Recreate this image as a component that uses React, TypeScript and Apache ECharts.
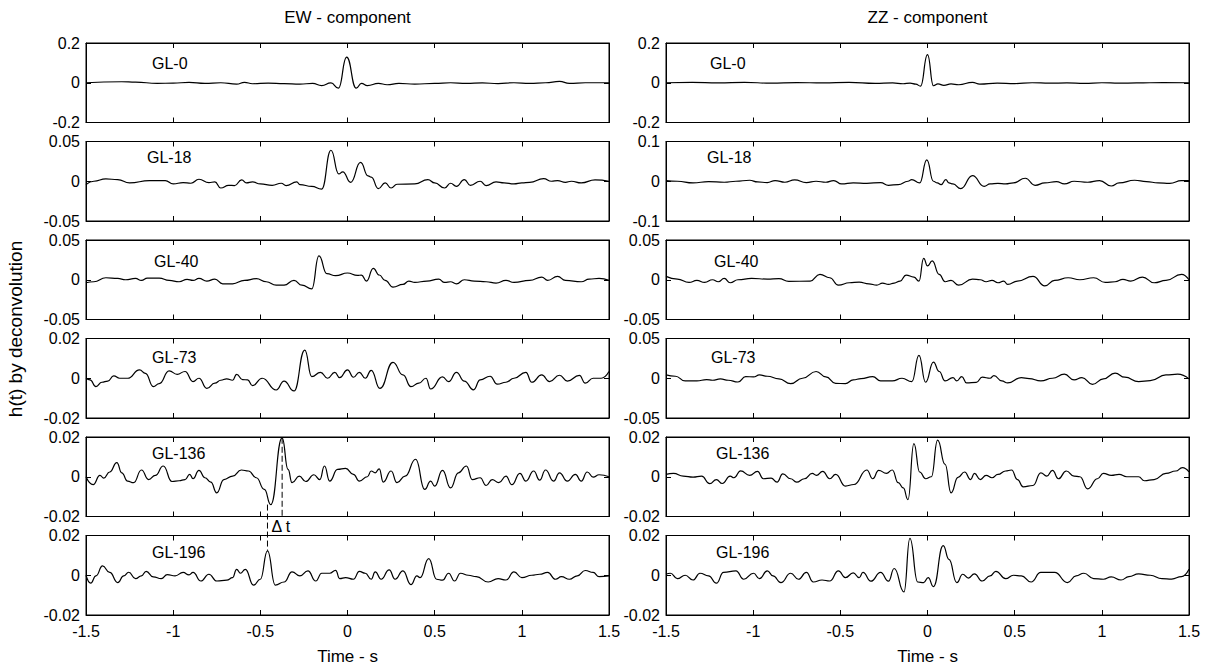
import React, { useEffect, useRef } from "react";
import * as echarts from "echarts";

// ---- axis setup -------------------------------------------------------
const componentTitles = ["EW - component", "ZZ - component"];
const stationNames = ["GL-0", "GL-18", "GL-40", "GL-73", "GL-136", "GL-196"];
const ewLimits = [0.2, 0.05, 0.05, 0.02, 0.02, 0.02];
const zzLimits = [0.2, 0.1, 0.05, 0.05, 0.02, 0.02];
const timeRange = [-1.5, 1.5];
const timeStep = 0.5;
const timeLabel = "Time - s";
const amplitudeLabel = "h(t) by deconvolution";

// ---- EW component, h(t) [time s, amplitude] -------------------------
const ewGL0: [number, number][] = [
  [-1.5, 0], [-1.295, 0.005], [-1.216, 0.003], [-1.091, -0.003], [-1.0, -0.002], [-0.909, 0.002],
  [-0.818, -0.003], [-0.727, 0], [-0.636, -0.007], [-0.591, 0.002], [-0.545, -0.005], [-0.455, -0.002],
  [-0.364, -0.004], [-0.273, -0.007], [-0.2, -0.003], [-0.148, -0.014], [-0.095, -0.001], [-0.052, -0.027],
  [-0.005, 0.129], [0.05, -0.027], [0.08, -0.003], [0.114, -0.014], [0.177, -0.003], [0.227, -0.01],
  [0.295, -0.003], [0.386, -0.007], [0.5, -0.003], [0.591, 0], [0.682, -0.003], [0.773, -0.001],
  [0.864, -0.004], [0.955, 0], [1.045, -0.003], [1.136, 0], [1.216, 0.007], [1.273, -0.003],
  [1.364, 0], [1.5, 0],
];

const ewGL18: [number, number][] = [
  [-1.5, -0.0042], [-1.455, 0], [-1.386, 0.003], [-1.318, 0.0021], [-1.25, -0.0021], [-1.136, 0.0008],
  [-1.045, 0.0008], [-1.0, -0.0034], [-0.943, -0.0017], [-0.898, -0.0025], [-0.852, 0.0025],
  [-0.795, -0.0017], [-0.761, -0.0008], [-0.727, -0.0085], [-0.682, -0.0051], [-0.648, -0.0055],
  [-0.607, 0.0017], [-0.58, -0.0021], [-0.545, -0.0008], [-0.5, -0.0034], [-0.432, -0.0051],
  [-0.38, -0.0025], [-0.352, -0.0055], [-0.291, -0.0008], [-0.273, -0.0042], [-0.205, -0.0064],
  [-0.148, -0.0098], [-0.095, 0.039], [-0.05, 0.0093], [-0.027, 0.0119], [0.018, -0.0013],
  [0.075, 0.0237], [0.118, 0.0068], [0.136, 0.0051], [0.177, -0.0093], [0.216, -0.0021],
  [0.25, -0.0085], [0.284, -0.0038], [0.386, -0.0034], [0.461, 0.0021], [0.5, -0.0021],
  [0.557, -0.0085], [0.591, -0.0025], [0.625, -0.0064], [0.67, 0.0021], [0.705, -0.0051],
  [0.761, 0], [0.795, -0.0055], [0.852, -0.0008], [0.898, -0.0021], [0.955, -0.0034], [1.0, -0.0021],
  [1.045, -0.0013], [1.125, 0.0034], [1.17, 0], [1.205, 0.0008], [1.25, -0.0013], [1.284, 0],
  [1.341, -0.0021], [1.42, 0.0017], [1.5, 0],
];

const ewGL40: [number, number][] = [
  [-1.5, -0.0038], [-1.455, -0.0025], [-1.386, 0.0025], [-1.318, 0.0017], [-1.273, 0], [-1.216, 0.0017],
  [-1.182, -0.0008], [-1.148, 0.0021], [-1.08, 0.0021], [-1.023, -0.0008], [-0.966, -0.0025],
  [-0.92, 0.0004], [-0.886, -0.0008], [-0.852, 0.0017], [-0.807, -0.0017], [-0.761, 0.0008],
  [-0.716, -0.0051], [-0.659, -0.0051], [-0.591, -0.0008], [-0.523, 0.0013], [-0.466, -0.0025],
  [-0.409, -0.0068], [-0.364, -0.0068], [-0.307, -0.0008], [-0.261, -0.0068], [-0.205, -0.0114],
  [-0.164, 0.03], [-0.118, 0.0076], [-0.068, 0.0051], [0, 0.0085], [0.057, 0.0055], [0.08, 0.0059],
  [0.109, -0.0017], [0.148, 0.0144], [0.182, 0.006], [0.216, -0.0008], [0.261, -0.0093],
  [0.318, -0.0059], [0.352, -0.0017], [0.386, -0.0034], [0.455, -0.0017], [0.523, 0.0008],
  [0.557, -0.0034], [0.591, -0.0025], [0.625, -0.0051], [0.67, 0], [0.727, -0.0017], [0.795, -0.0025],
  [0.852, -0.0042], [0.909, -0.0008], [0.955, -0.0034], [1.045, -0.0008], [1.114, 0.0034],
  [1.148, -0.0008], [1.205, 0.0042], [1.25, -0.0008], [1.341, -0.0025], [1.386, 0.0008],
  [1.443, 0.0017], [1.5, -0.0008],
];

const ewGL73: [number, number][] = [
  [-1.5, 0], [-1.477, -0.0008], [-1.443, -0.0042], [-1.409, -0.002], [-1.375, -0.0014], [-1.341, 0.0012],
  [-1.307, 0], [-1.261, 0], [-1.193, 0.0042], [-1.159, 0.0025], [-1.114, -0.0042], [-1.08, -0.0027],
  [-1.023, 0.0037], [-0.977, 0.002], [-0.932, 0.0034], [-0.886, -0.0017], [-0.852, 0], [-0.807, -0.0051],
  [-0.761, -0.0025], [-0.727, -0.001], [-0.693, -0.0003], [-0.659, -0.001], [-0.636, 0.002],
  [-0.602, -0.0007], [-0.573, -0.0008], [-0.545, -0.0037], [-0.489, 0], [-0.409, -0.0059],
  [-0.364, -0.0014], [-0.307, -0.0064], [-0.245, 0.0142], [-0.205, 0.0008], [-0.155, 0.003],
  [-0.114, 0], [-0.073, 0.003], [-0.045, 0.0003], [0, 0.0042], [0.034, 0.0005], [0.068, 0.003],
  [0.102, 0], [0.136, 0.004], [0.186, -0.0051], [0.261, 0.008], [0.318, 0.0017], [0.364, -0.0042],
  [0.409, -0.0025], [0.45, 0], [0.477, -0.0054], [0.545, 0.0007], [0.58, -0.0017], [0.625, 0.003],
  [0.67, -0.0014], [0.723, -0.0058], [0.761, -0.0008], [0.818, 0.001], [0.859, -0.003], [0.909, -0.002],
  [0.955, 0], [1.023, 0.003], [1.057, -0.002], [1.114, 0.0017], [1.159, -0.0017], [1.216, 0.0015],
  [1.261, -0.0014], [1.33, 0.0014], [1.364, -0.0025], [1.409, 0], [1.455, 0], [1.5, 0.0034],
];

const ewGL136: [number, number][] = [
  [-1.5, 0], [-1.459, -0.004], [-1.42, 0.0007], [-1.398, -0.0007], [-1.364, 0.0024], [-1.323, 0.0071],
  [-1.295, 0.002], [-1.261, -0.0022], [-1.227, -0.003], [-1.182, 0.0034], [-1.141, -0.0014],
  [-1.102, 0.0007], [-1.057, 0.0054], [-1.007, -0.0024], [-0.966, -0.002], [-0.932, -0.0014],
  [-0.905, 0.0012], [-0.886, -0.001], [-0.852, 0.0032], [-0.818, -0.0005], [-0.784, -0.0027],
  [-0.75, -0.0081], [-0.709, -0.0014], [-0.659, 0.0003], [-0.609, 0.0034], [-0.568, 0.0029],
  [-0.523, -0.0005], [-0.477, -0.0064], [-0.44, -0.014], [-0.375, 0.0196], [-0.341, 0.0037],
  [-0.318, -0.003], [-0.277, 0.0003], [-0.239, -0.0024], [-0.193, 0.001], [-0.159, -0.0014],
  [-0.132, 0.0054], [-0.102, -0.0022], [-0.057, 0.0037], [-0.011, 0.0042], [0.034, 0.0012],
  [0.068, -0.0022], [0.114, 0], [0.136, 0.0029], [0.159, 0.002], [0.182, 0.004], [0.205, -0.0027],
  [0.25, 0.0029], [0.284, -0.003], [0.33, 0.0003], [0.391, 0.0088], [0.443, -0.0064], [0.477, -0.0022],
  [0.5, -0.0047], [0.545, 0.0032], [0.591, -0.0056], [0.636, 0.002], [0.682, 0.0054], [0.716, -0.0014],
  [0.761, -0.0005], [0.795, -0.0044], [0.83, -0.0014], [0.868, -0.003], [0.909, 0.0003], [0.943, -0.004],
  [0.989, 0.0017], [1.023, -0.0022], [1.068, 0.0029], [1.102, -0.0017], [1.136, 0.0034], [1.182, -0.0022],
  [1.216, 0.002], [1.261, -0.0022], [1.307, 0.0012], [1.341, -0.0022], [1.375, 0.0024], [1.409, -0.0002],
  [1.443, 0.001], [1.5, 0],
];

const ewGL196: [number, number][] = [
  [-1.5, 0], [-1.473, -0.004], [-1.443, -0.0003], [-1.405, 0.0047], [-1.364, 0.0014], [-1.318, -0.0037],
  [-1.284, -0.0003], [-1.255, 0.0015], [-1.216, -0.0017], [-1.182, -0.0003], [-1.155, 0.002],
  [-1.114, -0.0008], [-1.068, -0.0017], [-1.034, 0.0003], [-0.989, -0.0003], [-0.943, 0.0014],
  [-0.909, 0.0002], [-0.886, 0.0014], [-0.841, -0.0029], [-0.795, 0.0005], [-0.75, -0.0029],
  [-0.693, -0.0025], [-0.659, -0.0012], [-0.636, 0.003], [-0.614, 0.001], [-0.586, 0.003],
  [-0.539, -0.005], [-0.5, -0.002], [-0.459, 0.0123], [-0.414, -0.005], [-0.364, -0.0034],
  [-0.318, 0.0017], [-0.273, -0.0003], [-0.227, 0.0022], [-0.182, -0.0029], [-0.148, 0.001],
  [-0.102, 0.001], [-0.068, 0.0025], [-0.045, -0.0017], [-0.011, -0.0012], [0.034, -0.002],
  [0.068, 0.0019], [0.102, 0.001], [0.136, -0.002], [0.159, 0.0017], [0.193, -0.002], [0.239, 0.0027],
  [0.273, -0.002], [0.318, 0.0022], [0.364, -0.0047], [0.398, -0.0003], [0.416, -0.0012], [0.466, 0.0084],
  [0.511, -0.002], [0.545, -0.0025], [0.58, 0.001], [0.614, -0.0029], [0.648, 0.001], [0.693, 0],
  [0.739, -0.0007], [0.807, -0.0034], [0.864, -0.0017], [0.909, -0.0024], [0.955, 0.0017], [1.0, -0.0012],
  [1.057, 0], [1.102, 0.0005], [1.148, 0.0014], [1.193, -0.002], [1.227, -0.0007], [1.273, -0.002],
  [1.318, -0.0003], [1.364, 0.0024], [1.409, 0.0014], [1.443, -0.0007], [1.5, -0.0003],
];

// ---- ZZ component, h(t) [time s, amplitude] -------------------------
const zzGL0: [number, number][] = [
  [-1.5, 0], [-1.35, 0.002], [-1.2, -0.001], [-1.05, 0.002], [-0.9, -0.002], [-0.75, 0.001], [-0.6, -0.001],
  [-0.45, 0.002], [-0.3, -0.003], [-0.2, -0.001], [-0.14, -0.005], [-0.1, -0.002], [-0.067, -0.007],
  [-0.04, -0.017], [0, 0.142], [0.034, -0.015], [0.06, -0.006], [0.094, -0.013], [0.135, -0.006],
  [0.179, -0.01], [0.258, 0.002], [0.3, -0.007], [0.4, -0.002], [0.5, -0.004], [0.6, 0], [0.7, -0.002],
  [0.8, -0.001], [0.9, -0.003], [1.0, 0], [1.1, -0.002], [1.2, -0.001], [1.35, 0.001], [1.5, 0],
];

const zzGL18: [number, number][] = [
  [-1.5, 0.0017], [-1.435, 0], [-1.345, -0.0042], [-1.256, -0.0008], [-1.166, -0.0025], [-1.099, 0],
  [-1.02, 0.0025], [-0.975, -0.0017], [-0.919, -0.0034], [-0.874, 0.0017], [-0.818, -0.0025],
  [-0.762, 0.0034], [-0.695, -0.0034], [-0.639, 0], [-0.583, -0.0025], [-0.538, 0.0017], [-0.493, -0.0068],
  [-0.426, -0.0042], [-0.348, -0.0051], [-0.269, -0.0034], [-0.224, -0.0102], [-0.168, -0.0085],
  [-0.112, 0], [-0.09, 0.0042], [-0.045, -0.0042], [-0.004, 0.054], [0.034, 0], [0.056, -0.0042],
  [0.078, -0.0085], [0.105, 0.004], [0.123, -0.0042], [0.146, -0.0068], [0.191, -0.0186], [0.258, 0.0144],
  [0.325, -0.0127], [0.359, -0.0068], [0.404, -0.0051], [0.448, -0.0068], [0.493, -0.0042],
  [0.561, 0.0076], [0.617, -0.0102], [0.673, -0.0042], [0.74, -0.0008], [0.785, -0.0068], [0.841, 0],
  [0.919, -0.0025], [0.987, 0.0017], [1.054, -0.012], [1.099, -0.0042], [1.188, 0.0025], [1.256, -0.0008],
  [1.323, -0.0042], [1.39, -0.0051], [1.457, 0.0017], [1.5, 0.0017],
];

const zzGL40: [number, number][] = [
  [-1.5, 0.0042], [-1.435, 0.0008], [-1.368, -0.0034], [-1.323, -0.0008], [-1.278, -0.0034], [-1.233, 0],
  [-1.2, -0.0025], [-1.166, 0.0017], [-1.132, -0.0038], [-1.087, 0], [-1.009, 0.0017], [-0.919, 0.0008],
  [-0.852, 0.0013], [-0.796, -0.0021], [-0.673, -0.0017], [-0.617, 0.0068], [-0.561, 0.0025],
  [-0.511, -0.0068], [-0.448, -0.0038], [-0.392, -0.003], [-0.336, -0.0051], [-0.291, -0.0068],
  [-0.258, -0.0042], [-0.224, -0.0059], [-0.191, -0.0042], [-0.157, -0.0017], [-0.123, 0.0059],
  [-0.078, 0.0034], [-0.049, -0.0017], [-0.022, 0.027], [0, 0.0174], [0.027, 0.0237], [0.067, 0.0068],
  [0.101, -0.0025], [0.135, -0.0008], [0.179, -0.0068], [0.258, 0.0008], [0.303, 0], [0.336, -0.0025],
  [0.37, -0.0008], [0.404, -0.0038], [0.437, -0.0017], [0.46, -0.0059], [0.516, -0.0017], [0.605, 0.0042],
  [0.673, -0.0076], [0.729, -0.0008], [0.807, 0.0025], [0.874, 0], [0.953, 0.0025], [1.02, -0.0034],
  [1.076, -0.0025], [1.121, 0.0004], [1.166, -0.0017], [1.233, 0.0034], [1.3, -0.0038], [1.368, -0.0008],
  [1.457, 0.0068], [1.5, 0],
];

const zzGL73: [number, number][] = [
  [-1.5, 0.0042], [-1.446, 0.0025], [-1.39, -0.0034], [-1.323, -0.0034], [-1.267, -0.0017],
  [-1.233, -0.0025], [-1.188, -0.0008], [-1.143, -0.0025], [-1.087, -0.0047], [-1.043, 0.0021],
  [-0.998, 0.0017], [-0.964, 0.0042], [-0.919, 0.0025], [-0.852, -0.0008], [-0.785, -0.0068], [-0.717, 0],
  [-0.639, 0.0085], [-0.583, 0.0017], [-0.527, -0.0064], [-0.471, -0.0068], [-0.426, -0.0021],
  [-0.381, -0.0004], [-0.314, 0.0021], [-0.269, -0.0034], [-0.202, -0.0034], [-0.146, 0], [-0.09, -0.0042],
  [-0.049, 0.0288], [-0.011, -0.005], [0.034, 0.0204], [0.067, 0.0085], [0.101, -0.0034], [0.146, 0.0008],
  [0.168, -0.0034], [0.197, 0.0021], [0.224, -0.0059], [0.28, -0.0051], [0.314, 0.0013], [0.359, 0],
  [0.381, 0.0034], [0.426, -0.0034], [0.46, -0.0059], [0.538, 0.0008], [0.583, -0.0004], [0.65, -0.0034],
  [0.717, 0], [0.785, 0.0051], [0.841, -0.0021], [0.886, 0.0008], [0.946, -0.0076], [1.009, -0.0008],
  [1.076, 0.0064], [1.132, 0.0013], [1.211, -0.0042], [1.278, -0.003], [1.368, 0.0042], [1.435, 0.0051],
  [1.5, -0.0008],
];

const zzGL136: [number, number][] = [
  [-1.5, 0.0012], [-1.457, 0.0017], [-1.401, 0.0003], [-1.345, -0.0002], [-1.296, 0.0003],
  [-1.249, -0.0035], [-1.211, -0.0014], [-1.177, -0.0034], [-1.132, 0.0003], [-1.11, -0.0005],
  [-1.072, 0.003], [-1.02, 0.0007], [-0.975, 0.0027], [-0.942, -0.001], [-0.897, -0.0007],
  [-0.863, -0.0027], [-0.83, 0.0014], [-0.785, -0.001], [-0.751, -0.0027], [-0.706, -0.001],
  [-0.661, 0.0017], [-0.637, 0.0007], [-0.601, 0.0027], [-0.561, -0.001], [-0.527, 0.0012],
  [-0.471, -0.0047], [-0.422, -0.0039], [-0.348, 0.0034], [-0.314, -0.001], [-0.28, 0.0032],
  [-0.235, 0.0017], [-0.202, 0.0034], [-0.168, -0.003], [-0.139, -0.0056], [-0.112, -0.0115],
  [-0.078, 0.0167], [-0.045, 0.0024], [-0.011, -0.001], [0.022, 0], [0.058, 0.0184], [0.101, 0.0062],
  [0.135, -0.0081], [0.175, -0.0003], [0.213, 0.0024], [0.247, -0.0014], [0.269, 0.0017], [0.303, -0.0014],
  [0.336, 0.0007], [0.37, -0.0005], [0.404, 0.0012], [0.448, 0.0029], [0.482, 0.0034], [0.516, -0.0014],
  [0.549, -0.0051], [0.605, -0.0044], [0.65, 0.002], [0.684, 0.0003], [0.717, 0.0032], [0.751, -0.001],
  [0.796, 0.0029], [0.841, 0.0003], [0.874, 0], [0.919, -0.0061], [0.975, -0.001], [1.009, 0.0017],
  [1.054, 0.0007], [1.099, 0.0012], [1.143, 0], [1.211, 0], [1.244, -0.002], [1.3, -0.0014],
  [1.368, 0.0017], [1.424, 0.0029], [1.462, 0.0046], [1.5, 0.0024],
];

const zzGL196: [number, number][] = [
  [-1.5, 0.0005], [-1.475, 0.001], [-1.435, -0.0017], [-1.39, 0], [-1.345, -0.0024], [-1.305, 0.001],
  [-1.256, -0.0003], [-1.211, -0.004], [-1.17, 0.0014], [-1.099, 0.0022], [-1.054, -0.002], [-0.998, 0.001],
  [-0.964, -0.0017], [-0.919, 0.0022], [-0.886, -0.0003], [-0.841, -0.0037], [-0.785, 0.001],
  [-0.74, -0.002], [-0.695, 0.0014], [-0.655, -0.0034], [-0.605, -0.0024], [-0.561, -0.0029],
  [-0.511, 0.0022], [-0.471, -0.0012], [-0.426, 0.0012], [-0.392, -0.0012], [-0.37, 0.0014],
  [-0.325, -0.003], [-0.269, 0.0014], [-0.224, -0.003], [-0.191, 0.0034], [-0.135, -0.0084],
  [-0.101, 0.0186], [-0.056, -0.0034], [-0.022, -0.0037], [0.004, -0.0012], [0.034, -0.0057],
  [0.09, 0.0149], [0.123, 0.008], [0.168, -0.0037], [0.202, 0.0005], [0.235, -0.0014], [0.269, 0.0007],
  [0.314, -0.0029], [0.359, -0.0003], [0.392, 0.002], [0.448, -0.0017], [0.493, 0], [0.538, -0.0003],
  [0.594, -0.0034], [0.65, 0.0014], [0.729, 0.0014], [0.803, -0.0037], [0.852, -0.0003], [0.897, 0.001],
  [0.953, -0.0017], [1.009, -0.002], [1.054, -0.0008], [1.11, -0.0024], [1.155, -0.0007], [1.211, 0.0007],
  [1.278, 0], [1.345, -0.0017], [1.401, -0.0019], [1.457, -0.0007], [1.5, 0.003],
];

// Delay annotation between GL-136 and GL-196 (EW): [time, amplitude]
const gl136Peak: [number, number] = [-0.375, 0.0196];
const gl136Trough: [number, number] = [-0.459, -0.014];
const gl196Peak: [number, number] = [-0.459, 0.0123];
const deltaLabel = "\u0394 t";

const ewTraces = [ewGL0, ewGL18, ewGL40, ewGL73, ewGL136, ewGL196];
const zzTraces = [zzGL0, zzGL18, zzGL40, zzGL73, zzGL136, zzGL196];

// ---- layout ------------------------------------------------------------
const W = 1210;
const H = 669;
const COL_LEFT = [86, 666];
const PLOT_W = 523;
const TOP0 = 43;
const PANEL_H = 79.5;
const STEP = 98.5;
const FONT = '"Liberation Sans", Arial, Helvetica, sans-serif';
const LABEL_DX = [
  [66, 61, 68, 66, 66, 66],
  [44, 41, 48, 45, 50, 50],
];
const LABEL_DY = [20, 16, 21, 19, 16, 17];

const fmt = (v: number) => (Math.abs(v) < 1e-9 ? "0" : String(Number(v.toPrecision(6))));

function buildOption() {
  const grids: any[] = [];
  const xAxes: any[] = [];
  const yAxes: any[] = [];
  const series: any[] = [];
  const graphics: any[] = [];

  const axisLine = { show: true, onZero: false, lineStyle: { color: "#000", width: 1 } };
  const tick = { show: true, inside: true, length: 5, lineStyle: { color: "#000", width: 1 } };

  [ewTraces, zzTraces].forEach((traces, c) => {
    const limits = c === 0 ? ewLimits : zzLimits;
    traces.forEach((data, r) => {
      const g = c * 6 + r;
      const lim = limits[r];
      const top = TOP0 + r * STEP;
      grids.push({
        left: COL_LEFT[c],
        top,
        width: PLOT_W,
        height: PANEL_H,
        show: true,
        borderColor: "#000",
        borderWidth: 1,
        backgroundColor: "transparent",
      });
      const bottomRow = r === stationNames.length - 1;
      ["bottom", "top"].forEach((pos) => {
        xAxes.push({
          type: "value",
          gridIndex: g,
          position: pos,
          min: timeRange[0],
          max: timeRange[1],
          interval: timeStep,
          axisLine,
          axisTick: tick,
          splitLine: { show: false },
          axisLabel: {
            show: pos === "bottom" && bottomRow,
            showMinLabel: true,
            showMaxLabel: true,
            margin: 8,
            color: "#000",
            fontSize: 16,
            fontFamily: FONT,
            formatter: fmt,
          },
          name: pos === "bottom" && bottomRow ? timeLabel : "",
          nameLocation: "middle",
          nameGap: 33,
          nameTextStyle: { color: "#000", fontSize: 17, fontFamily: FONT },
        });
      });
      ["left", "right"].forEach((pos) => {
        yAxes.push({
          type: "value",
          gridIndex: g,
          position: pos,
          min: -lim,
          max: lim,
          interval: lim,
          axisLine,
          axisTick: tick,
          splitLine: { show: false },
          axisLabel: {
            show: pos === "left",
            showMinLabel: true,
            showMaxLabel: true,
            margin: 6,
            color: "#000",
            fontSize: 16,
            fontFamily: FONT,
            formatter: fmt,
          },
        });
      });
      series.push({
        type: "line",
        xAxisIndex: 2 * g,
        yAxisIndex: 2 * g,
        data,
        showSymbol: false,
        symbol: "none",
        smooth: 0.5,
        smoothMonotone: "x",
        lineStyle: { color: "#000", width: 1.2 },
        silent: true,
        z: 3,
      });
      graphics.push({
        type: "text",
        x: COL_LEFT[c] + LABEL_DX[c][r],
        y: top + LABEL_DY[r],
        style: {
          text: stationNames[r],
          fill: "#000",
          fontSize: 16,
          fontFamily: FONT,
          align: "left",
          verticalAlign: "middle",
          textAlign: "left",
          textVerticalAlign: "middle",
        },
      });
    });
    graphics.push({
      type: "text",
      x: COL_LEFT[c] + PLOT_W / 2,
      y: 17,
      style: {
        text: componentTitles[c],
        fill: "#000",
        fontSize: 17,
        fontFamily: FONT,
        align: "center",
        verticalAlign: "middle",
        textAlign: "center",
        textVerticalAlign: "middle",
      },
    });
  });

  // dashed markers for the delay between the two traces
  const gap = STEP - PANEL_H;
  const lim5 = ewLimits[4];
  const lim6 = ewLimits[5];
  const troughPx = ((gl136Trough[1] + lim5) / (2 * lim5)) * PANEL_H;
  const upperEnd = lim6 + ((gap + troughPx) / PANEL_H) * 2 * lim6;
  const dashStyle = { color: "#000", width: 1, type: [6, 3] };
  series.push({
    type: "line",
    xAxisIndex: 2 * 4,
    yAxisIndex: 2 * 4,
    data: [gl136Peak, [gl136Peak[0], -lim5]],
    showSymbol: false,
    symbol: "none",
    lineStyle: dashStyle,
    silent: true,
    z: 4,
  });
  series.push({
    type: "line",
    xAxisIndex: 2 * 5,
    yAxisIndex: 2 * 5,
    data: [[gl196Peak[0], upperEnd], gl196Peak],
    showSymbol: false,
    symbol: "none",
    clip: false,
    lineStyle: dashStyle,
    silent: true,
    z: 4,
  });
  const xLeftDash = COL_LEFT[0] + ((gl196Peak[0] - timeRange[0]) / (timeRange[1] - timeRange[0])) * PLOT_W;
  graphics.push({
    type: "text",
    x: xLeftDash + 4,
    y: TOP0 + 5 * STEP - gap / 2,
    style: {
      text: deltaLabel,
      fill: "#000",
      fontSize: 16,
      fontFamily: FONT,
      align: "left",
      verticalAlign: "middle",
      textAlign: "left",
      textVerticalAlign: "middle",
    },
  });

  graphics.push({
    type: "text",
    x: 15,
    y: TOP0 + (5 * STEP + PANEL_H) / 2,
    rotation: Math.PI / 2,
    style: {
      text: amplitudeLabel,
      fill: "#000",
      fontSize: 19,
      fontFamily: FONT,
      align: "center",
      verticalAlign: "middle",
      textAlign: "center",
      textVerticalAlign: "middle",
    },
  });

  return {
    animation: false,
    backgroundColor: "#fff",
    grid: grids,
    xAxis: xAxes,
    yAxis: yAxes,
    series,
    graphic: graphics,
  };
}

export default function App() {
  const ref = useRef<HTMLDivElement>(null);
  useEffect(() => {
    if (!ref.current) return;
    const chart = echarts.init(ref.current, undefined, { renderer: "svg" });
    chart.setOption(buildOption() as any);
    return () => chart.dispose();
  }, []);
  return (
    <div
      ref={ref}
      style={{ position: "absolute", left: 0, top: 0, width: W, height: H, background: "#fff" }}
    />
  );
}
